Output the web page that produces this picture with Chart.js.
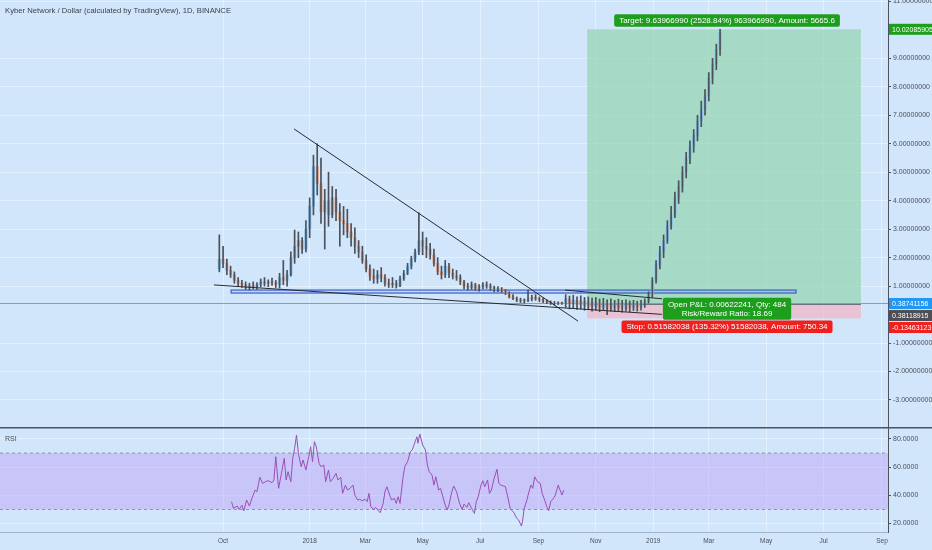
<!DOCTYPE html>
<html>
<head>
<meta charset="utf-8">
<script src="https://cdn.jsdelivr.net/npm/chart.js@4.4.1/dist/chart.umd.min.js"></script>
<style>
    body { margin: 0; width: 932px; height: 550px; overflow: hidden; background: #d2e6fb; position: relative; }
    #priceChart { position: absolute; left: 0; top: 0; }
    #rsiChart { position: absolute; left: 0; top: 427px; }
</style>
</head>
<body>
<canvas id="priceChart" width="932" height="427"></canvas>
<canvas id="rsiChart" width="932" height="123"></canvas>
<script>
// day 0 = 1 Oct 2017, one candle every 4 days (last 42 are the drawn projection)
const candleStartDay = -4;
const candleStepDays = 4;
const candleFirstOpen = 1.60;
const candleHigh = [
    2.80, 2.40, 1.95, 1.70, 1.50, 1.30, 1.20, 1.15, 1.10, 1.15,
    1.12, 1.25, 1.30, 1.22, 1.28, 1.20, 1.45, 1.90, 1.55, 2.20,
    2.97, 2.90, 2.70, 3.30, 4.10, 5.60, 6.00, 5.50, 4.40, 5.00,
    4.50, 4.40, 3.90, 3.80, 3.70, 3.20, 3.05, 2.60, 2.40, 2.10,
    1.75, 1.60, 1.55, 1.65, 1.40, 1.25, 1.30, 1.20, 1.35, 1.55,
    1.80, 2.05, 2.30, 3.57, 2.90, 2.70, 2.50, 2.30, 2.00, 1.70,
    1.90, 1.80, 1.60, 1.55, 1.40, 1.20, 1.10, 1.15, 1.10, 1.05,
    1.12, 1.15, 1.08, 1.00, 0.98, 0.95, 0.88, 0.80, 0.70, 0.62,
    0.58, 0.55, 0.86, 0.68, 0.70, 0.62, 0.58, 0.52, 0.48, 0.46,
    0.45, 0.44,
    0.70, 0.65, 0.68, 0.62, 0.66, 0.60, 0.62, 0.58, 0.60, 0.55,
    0.57, 0.52, 0.55, 0.50, 0.54, 0.50, 0.52, 0.48, 0.50, 0.47,
    0.50, 0.55,
    0.80, 1.30, 1.90, 2.40, 2.80, 3.30, 3.80, 4.30, 4.70, 5.20,
    5.70, 6.10, 6.50, 7.00, 7.50, 7.90, 8.50, 9.00, 9.50, 10.02
];
const candleLow = [
    1.50, 1.65, 1.40, 1.30, 1.10, 1.00, 0.95, 0.88, 0.86, 0.90,
    0.88, 0.97, 1.00, 0.98, 1.02, 0.95, 0.93, 1.05, 1.00, 1.35,
    1.80, 2.00, 2.15, 2.20, 2.70, 3.50, 4.20, 3.20, 2.30, 3.10,
    3.40, 3.30, 2.40, 2.80, 2.70, 2.40, 2.15, 2.00, 1.80, 1.50,
    1.20, 1.10, 1.10, 1.15, 1.00, 0.95, 0.95, 0.93, 0.98, 1.20,
    1.40, 1.60, 1.85, 2.10, 2.10, 2.00, 1.95, 1.70, 1.40, 1.25,
    1.30, 1.30, 1.25, 1.20, 1.05, 0.90, 0.86, 0.88, 0.85, 0.82,
    0.90, 0.92, 0.85, 0.80, 0.80, 0.78, 0.70, 0.58, 0.52, 0.45,
    0.42, 0.40, 0.45, 0.48, 0.50, 0.45, 0.42, 0.38, 0.35, 0.33,
    0.35, 0.36,
    0.25, 0.20, 0.22, 0.18, 0.20, 0.15, 0.18, 0.12, 0.15, 0.10,
    0.14, 0.00, 0.12, 0.10, 0.13, 0.08, 0.12, 0.10, 0.14, 0.12,
    0.15, 0.25,
    0.40, 0.60, 1.10, 1.60, 2.00, 2.50, 3.00, 3.40, 3.90, 4.30,
    4.80, 5.30, 5.70, 6.10, 6.60, 7.00, 7.50, 8.10, 8.60, 9.10
];
const candleClose = [
    1.95, 1.80, 1.55, 1.40, 1.20, 1.10, 1.05, 0.95, 1.00, 0.98,
    1.05, 1.15, 1.10, 1.15, 1.12, 1.05, 1.30, 1.20, 1.40, 2.00,
    2.40, 2.60, 2.30, 3.00, 3.80, 5.20, 4.60, 3.60, 4.00, 3.50,
    4.10, 3.60, 3.30, 3.20, 2.90, 2.70, 2.40, 2.20, 1.90, 1.60,
    1.35, 1.25, 1.40, 1.30, 1.10, 1.05, 1.10, 1.00, 1.25, 1.45,
    1.70, 1.95, 2.20, 2.60, 2.40, 2.30, 2.10, 1.80, 1.50, 1.40,
    1.70, 1.45, 1.35, 1.30, 1.15, 1.00, 0.95, 1.05, 0.92, 0.98,
    1.05, 1.00, 0.95, 0.88, 0.90, 0.82, 0.75, 0.62, 0.56, 0.50,
    0.48, 0.50, 0.55, 0.60, 0.55, 0.52, 0.46, 0.42, 0.40, 0.38,
    0.40, 0.39,
    0.55, 0.40, 0.50, 0.35, 0.48, 0.30, 0.45, 0.28, 0.42, 0.25,
    0.40, 0.22, 0.38, 0.24, 0.36, 0.20, 0.35, 0.25, 0.38, 0.28,
    0.40, 0.45,
    0.70, 1.20, 1.75, 2.20, 2.60, 3.10, 3.50, 4.10, 4.50, 5.00,
    5.50, 5.90, 6.30, 6.80, 7.20, 7.70, 8.30, 8.80, 9.30, 9.90
];

const rsiDays = [
    9, 11, 15, 17, 20, 22, 25, 28, 30, 34,
    36, 39, 42, 45, 48, 52, 54, 56, 59, 62,
    65, 67, 69, 72, 74, 76, 78, 80, 83, 85,
    88, 91, 93, 95, 97, 99, 102, 104, 107, 109,
    112, 114, 117, 120, 122, 125, 127, 130, 132, 135,
    138, 140, 143, 145, 148, 151, 153, 155, 157, 160,
    162, 165, 167, 170, 172, 174, 177, 179, 182, 184,
    186, 188, 191, 193, 196, 199, 201, 204, 206, 207,
    209, 212, 215, 217, 219, 222, 224, 226, 229, 231,
    233, 236, 238, 240, 243, 245, 248, 251, 254, 256,
    259, 261, 264, 267, 269, 271, 274, 276, 278, 281,
    283, 285, 288, 291, 293, 295, 298, 300, 302, 305,
    307, 309, 312, 314, 317, 318, 320, 323, 324, 327,
    329, 331, 334, 337, 339, 341, 344, 346, 348, 351,
    353, 356, 358, 360, 362
];
const rsiValues = [
    35.5, 30.8, 32.4, 30.0, 33.0, 29.0, 36.7, 32.4, 36.7, 43.8,
    42.6, 52.8, 48.5, 49.7, 50.4, 49.0, 50.9, 67.4, 45.0, 55.6,
    66.3, 50.9, 56.8, 49.7, 66.3, 73.4, 82.8, 69.8, 60.3, 65.1,
    58.0, 67.4, 74.5, 63.9, 78.1, 74.5, 62.7, 60.3, 61.5, 49.7,
    58.0, 49.7, 52.1, 55.6, 50.9, 52.8, 41.4, 47.3, 43.8, 45.0,
    47.3, 40.2, 36.7, 37.2, 36.2, 37.2, 35.5, 41.4, 31.9, 30.0,
    31.5, 29.1, 27.7, 34.3, 42.6, 46.1, 40.2, 36.7, 37.9, 34.3,
    39.0, 34.3, 52.1, 60.3, 63.9, 71.0, 72.2, 78.1, 81.6, 77.0,
    83.5, 75.7, 72.2, 61.5, 56.8, 54.4, 47.3, 53.2, 43.8, 45.0,
    40.2, 33.1, 29.6, 33.1, 42.6, 46.6, 42.6, 34.8, 30.0, 33.8,
    31.5, 34.8, 30.8, 27.2, 35.5, 39.0, 47.3, 50.4, 46.1, 50.9,
    41.4, 43.8, 52.1, 58.5, 48.5, 47.3, 46.6, 46.1, 40.2, 30.8,
    29.1, 27.7, 23.7, 22.5, 18.2, 21.3, 30.8, 37.2, 40.2, 47.3,
    45.0, 53.2, 49.7, 48.5, 41.4, 37.9, 31.9, 29.1, 35.5, 37.9,
    40.2, 47.3, 43.8, 40.2, 43.8
];

const monthTickDays = [0, 92, 151, 212, 273, 335, 396, 457, 516, 577, 638, 700];
const monthTickLabels = ['Oct', '2018', 'Mar', 'May', 'Jul', 'Sep', 'Nov', '2019', 'Mar', 'May', 'Jul', 'Sep'];
const priceTicks = [-3, -2, -1, 1, 2, 3, 4, 5, 6, 7, 8, 9, 11];
const rsiTicks = [20, 40, 60, 80];
const rsiBand = [30, 70];

// drawings
const resistanceDays = [75.4, 377.1];
const resistancePrices = [6.52, -0.23];
const supportDays = [-9.6, 466.3];
const supportPrices = [1.04, 0.007];
const channelDays = [363.3, 466.3];
const channelPrices = [0.86, 0.555];
const rangeBoxDays = [8.5, 608.7];
const rangeBoxPrices = [0.756, 0.861];

// long position tool
const positionDays = [386.7, 677.7];
const entryPrice = 0.38118915;
const targetPrice = 10.02085905;
const stopPrice = -0.13463123;
const lastPrice = 0.38741156;
const targetText = 'Target: 9.63966990 (2528.84%) 963966990, Amount: 5665.6';
const pnlText = ['Open P&L: 0.00622241, Qty: 484', 'Risk/Reward Ratio: 18.69'];
const stopText = 'Stop: 0.51582038 (135.32%) 51582038, Amount: 750.34';
const titleText = 'Kyber Network / Dollar (calculated by TradingView), 1D, BINANCE';

const FONT = '"Liberation Sans", Arial, sans-serif';
const GRID = 'rgba(240,248,255,0.55)';
const AXIS_TEXT = '#4a505b';
const GREEN = '#1d9f1d';
const RED = '#f0201e';

const candleDay = i => candleStartDay + i * candleStepDays;
const candleOpen = candleClose.map((c, i) => i === 0 ? candleFirstOpen : candleClose[i - 1]);
const wickData = candleHigh.map((h, i) => ({x: candleDay(i), y: [candleLow[i], h]}));
const bodyData = candleClose.map((c, i) => ({x: candleDay(i), y: [candleOpen[i], c]}));
const bodyColors = candleClose.map((c, i) => c >= candleOpen[i] ? '#86bde9' : '#e6a78e');
const linePoints = (days, values) => days.map((d, i) => ({x: d, y: values[i]}));

const xScale = (showLabels) => ({
    type: 'linear',
    min: -237,
    max: 706.4,
    offset: false,
    grid: {color: GRID, offset: false, drawTicks: false},
    border: {display: showLabels, color: 'rgba(110,130,155,0.5)'},
    ticks: {
        display: showLabels,
        autoSkip: false,
        maxRotation: 0,
        padding: 5,
        color: AXIS_TEXT,
        font: {family: FONT, size: 6.5},
        callback: (v, i) => monthTickLabels[i]
    },
    afterBuildTicks: s => { s.ticks = monthTickDays.map(v => ({value: v})); },
    afterFit: s => {
        s.height = showLabels ? 18 : 0;
        s.paddingLeft = 0;
        s.paddingRight = 0;
    }
});

const yScale = (min, max, ticks, digits) => ({
    position: 'right',
    min: min,
    max: max,
    grid: {color: GRID, tickLength: 3, tickColor: '#4c525e'},
    border: {color: '#4c525e'},
    ticks: {
        padding: 2,
        color: AXIS_TEXT,
        font: {family: FONT, size: 7},
        callback: v => Number(v).toFixed(digits)
    },
    afterBuildTicks: s => { s.ticks = ticks.map(v => ({value: v})); },
    afterFit: s => {
        s.width = 44;
        s.paddingTop = 0;
        s.paddingBottom = 0;
    }
});

function drawTag(ctx, lines, cx, top, bg) {
    ctx.font = '8px ' + FONT;
    const lineH = 9.5;
    const w = Math.max(...lines.map(t => ctx.measureText(t).width)) + 10;
    const h = lines.length * lineH + 3;
    ctx.fillStyle = bg;
    ctx.beginPath();
    ctx.roundRect(cx - w / 2, top, w, h, 2);
    ctx.fill();
    ctx.fillStyle = '#ffffff';
    ctx.textAlign = 'center';
    ctx.textBaseline = 'middle';
    lines.forEach((t, i) => ctx.fillText(t, cx, top + 2 + lineH * (i + 0.5)));
    return h;
}

const priceOverlay = {
    id: 'priceOverlay',
    beforeDatasetsDraw(chart) {
        const {ctx, chartArea: a, scales: {x, y}} = chart;
        ctx.save();
        ctx.beginPath();
        ctx.rect(a.left, a.top, a.width, a.height);
        ctx.clip();

        const bx0 = x.getPixelForValue(positionDays[0]);
        const bx1 = x.getPixelForValue(positionDays[1]);
        const yT = y.getPixelForValue(targetPrice);
        const yE = y.getPixelForValue(entryPrice);
        const yS = y.getPixelForValue(stopPrice);
        ctx.fillStyle = 'rgba(150,214,177,0.72)';
        ctx.fillRect(bx0, yT, bx1 - bx0, yE - yT);
        ctx.fillStyle = 'rgba(241,181,196,0.72)';
        ctx.fillRect(bx0, yE, bx1 - bx0, yS - yE);
        ctx.strokeStyle = '#6d737c';
        ctx.lineWidth = 1;
        ctx.beginPath();
        ctx.moveTo(bx0, Math.round(yE) + 0.5);
        ctx.lineTo(bx1, Math.round(yE) + 0.5);
        ctx.stroke();

        const rx0 = x.getPixelForValue(rangeBoxDays[0]);
        const rx1 = x.getPixelForValue(rangeBoxDays[1]);
        const ry0 = y.getPixelForValue(rangeBoxPrices[1]);
        const ry1 = y.getPixelForValue(rangeBoxPrices[0]);
        ctx.fillStyle = 'rgba(70,110,220,0.12)';
        ctx.fillRect(rx0, ry0, rx1 - rx0, ry1 - ry0);
        ctx.strokeStyle = '#3b5fc6';
        ctx.lineWidth = 1.2;
        ctx.strokeRect(rx0, ry0, rx1 - rx0, ry1 - ry0);

        const yL = Math.round(y.getPixelForValue(lastPrice)) - 0.5;
        ctx.strokeStyle = '#4fb0ec';
        ctx.lineWidth = 1;
        ctx.beginPath();
        ctx.moveTo(a.left, yL);
        ctx.lineTo(a.right, yL);
        ctx.stroke();
        ctx.restore();
    },
    afterDraw(chart) {
        const {ctx, chartArea: a, scales: {x, y}} = chart;
        ctx.save();
        ctx.fillStyle = '#3c414b';
        ctx.font = '7.7px ' + FONT;
        ctx.textAlign = 'left';
        ctx.textBaseline = 'middle';
        ctx.fillText(titleText, 5, 11);

        const cx = (x.getPixelForValue(positionDays[0]) + x.getPixelForValue(positionDays[1])) / 2 + 3;
        const yT = y.getPixelForValue(targetPrice);
        const yE = y.getPixelForValue(entryPrice);
        const yS = y.getPixelForValue(stopPrice);
        drawTag(ctx, [targetText], cx, yT - 15, GREEN);
        drawTag(ctx, pnlText, cx, yE - 6, GREEN);
        drawTag(ctx, [stopText], cx, yS + 2, RED);

        // price labels on the axis, pushed apart when they overlap
        const tags = [
            {v: targetPrice, bg: GREEN},
            {v: lastPrice, bg: '#2196f3'},
            {v: entryPrice, bg: '#4d4f55'},
            {v: stopPrice, bg: RED}
        ].map(t => ({...t, py: y.getPixelForValue(t.v)})).sort((p, q) => p.py - q.py);
        for (let i = 1; i < tags.length; i++) {
            tags[i].py = Math.max(tags[i].py, tags[i - 1].py + 12);
        }
        ctx.font = '7px ' + FONT;
        ctx.textAlign = 'left';
        ctx.textBaseline = 'middle';
        tags.forEach(t => {
            ctx.fillStyle = t.bg;
            ctx.fillRect(a.right + 1, t.py - 5.5, 43, 11);
            ctx.fillStyle = '#ffffff';
            ctx.fillText(t.v.toFixed(8), a.right + 4, t.py + 0.5);
        });
        ctx.restore();
    }
};

const rsiOverlay = {
    id: 'rsiOverlay',
    beforeDatasetsDraw(chart) {
        const {ctx, chartArea: a, scales: {y}} = chart;
        const yHi = y.getPixelForValue(rsiBand[1]);
        const yLo = y.getPixelForValue(rsiBand[0]);
        ctx.save();
        ctx.fillStyle = 'rgba(180,130,246,0.32)';
        ctx.fillRect(a.left, yHi, a.width, yLo - yHi);
        ctx.strokeStyle = '#8f93a3';
        ctx.lineWidth = 1;
        ctx.setLineDash([3, 3]);
        [yHi, yLo].forEach(py => {
            ctx.beginPath();
            ctx.moveTo(a.left, py);
            ctx.lineTo(a.right, py);
            ctx.stroke();
        });
        ctx.restore();
    },
    afterDraw(chart) {
        const {ctx} = chart;
        ctx.save();
        ctx.fillStyle = '#4d535e';
        ctx.fillRect(0, 0, chart.width, 1.5);
        ctx.fillStyle = '#4a505b';
        ctx.font = '7px ' + FONT;
        ctx.textBaseline = 'middle';
        ctx.fillText('RSI', 5, 12);
        ctx.restore();
    }
};

new Chart(document.getElementById('priceChart'), {
    type: 'bar',
    data: {
        datasets: [
            {type: 'line', data: linePoints(resistanceDays, resistancePrices), borderColor: '#262a33', borderWidth: 1, pointRadius: 0, order: 0},
            {type: 'line', data: linePoints(supportDays, supportPrices), borderColor: '#262a33', borderWidth: 1, pointRadius: 0, order: 0},
            {type: 'line', data: linePoints(channelDays, channelPrices), borderColor: '#262a33', borderWidth: 1, pointRadius: 0, order: 0},
            {type: 'bar', data: wickData, backgroundColor: '#4a515b', barThickness: 1, grouped: false, order: 1},
            {type: 'bar', data: bodyData, backgroundColor: bodyColors, barThickness: 2.5, minBarLength: 1, grouped: false, order: 2}
        ]
    },
    options: {
        responsive: false,
        animation: false,
        layout: {padding: 0},
        plugins: {legend: {display: false}, tooltip: {enabled: false}},
        scales: {
            x: xScale(false),
            y: yScale(-3.95, 11.05, priceTicks, 8)
        }
    },
    plugins: [priceOverlay]
});

new Chart(document.getElementById('rsiChart'), {
    type: 'line',
    data: {
        datasets: [{
            data: linePoints(rsiDays, rsiValues),
            borderColor: '#9b4db4',
            borderWidth: 1,
            pointRadius: 0,
            tension: 0
        }]
    },
    options: {
        responsive: false,
        animation: false,
        layout: {padding: 0},
        plugins: {legend: {display: false}, tooltip: {enabled: false}},
        scales: {
            x: xScale(true),
            y: yScale(14, 88.5, rsiTicks, 4)
        }
    },
    plugins: [rsiOverlay]
});
</script>
</body>
</html>
